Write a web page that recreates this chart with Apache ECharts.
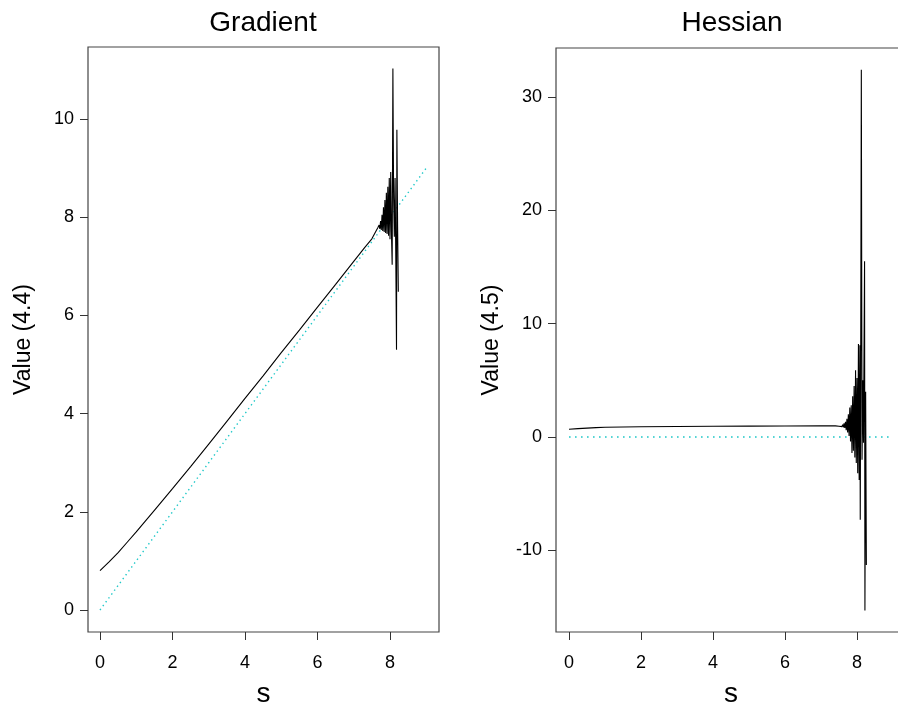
<!DOCTYPE html>
<html>
<head>
<meta charset="utf-8">
<title>Gradient and Hessian</title>
<script src="https://cdn.jsdelivr.net/npm/echarts@6/dist/echarts.min.js"></script>
<style>
  html, body { margin: 0; padding: 0; background: #fff; }
  #chart { width: 898px; height: 706px; }
</style>
</head>
<body>
<div id="chart"></div>
<script>
// gradient (4.4) against s
var gradS = [0, 0.25, 0.5, 0.75, 1, 1.25, 1.5, 2, 2.5, 3, 3.5, 4, 4.5, 5, 5.5, 6, 6.5, 7, 7.3, 7.5,
  7.60, 7.62, 7.64, 7.66, 7.68, 7.70, 7.72, 7.74, 7.76, 7.78, 7.80, 7.82, 7.84, 7.86, 7.88, 7.90,
  7.92, 7.94, 7.96, 7.98, 8.00, 8.02, 8.04, 8.06, 8.08, 8.10, 8.12, 8.14, 8.16, 8.18, 8.19, 8.21, 8.23];
var gradVals = [0.80, 0.98, 1.17, 1.38, 1.59, 1.81, 2.03, 2.47, 2.92, 3.38, 3.84, 4.31, 4.77, 5.24, 5.70, 6.17, 6.63, 7.10, 7.38, 7.56,
  7.70, 7.74, 7.72, 7.78, 7.74, 7.84, 7.76, 7.92, 7.74, 8.05, 7.72, 8.20, 7.70, 8.35, 7.68, 8.50,
  7.66, 8.62, 7.62, 8.80, 7.55, 8.92, 7.70, 7.03, 11.03, 8.40, 7.60, 8.80, 7.20, 5.30, 9.78, 7.80, 6.48];

// hessian (4.5) against s
var hessS = [0, 0.25, 0.5, 0.75, 1, 1.5, 2, 3, 4, 5, 6, 7, 7.4,
  7.45, 7.50, 7.55, 7.58, 7.60, 7.62, 7.64, 7.66, 7.68, 7.70, 7.72, 7.74, 7.76, 7.78, 7.80, 7.82,
  7.84, 7.86, 7.88, 7.90, 7.92, 7.94, 7.96, 7.98, 8.00, 8.02, 8.04, 8.06, 8.08, 8.09, 8.10, 8.12,
  8.14, 8.16, 8.18, 8.21, 8.22, 8.24, 8.26];
var hessVals = [0.68, 0.74, 0.79, 0.83, 0.86, 0.89, 0.91, 0.93, 0.95, 0.96, 0.97, 0.98, 0.98,
  1.00, 0.95, 1.05, 0.92, 1.10, 0.85, 1.20, 0.80, 1.35, 0.60, 1.60, 0.40, 2.00, 0.10, 2.60, -0.40,
  2.80, -1.40, 3.60, -1.20, 4.50, -1.80, 5.90, -2.30, 5.20, -3.20, 8.20, -3.80, 8.10, -7.30, 3.00, 32.40,
  -2.00, 5.00, -0.50, 15.50, -15.30, 4.00, -11.30];

// dotted reference lines
var refS = [0, 9];
var gradRef = [0, 9];
var hessRef = [0, 0];

var xTicks = [0, 2, 4, 6, 8];
var gradTicks = [0, 2, 4, 6, 8, 10];
var hessTicks = [-10, 0, 10, 20, 30];

function pairs(xs, ys) {
  return xs.map(function (x, i) { return [x, ys[i]]; });
}

var font = "Liberation Sans, Arial, Helvetica, sans-serif";

function xAxisOf(idx, min, max) {
  return {
    type: "value",
    gridIndex: idx,
    min: min,
    max: max,
    name: "s",
    nameLocation: "middle",
    nameGap: 48,
    nameTextStyle: { fontFamily: font, fontSize: 28, color: "#000" },
    axisLine: { show: false, onZero: false },
    splitLine: { show: false },
    axisTick: {
      show: true,
      length: 8,
      customValues: xTicks,
      lineStyle: { color: "#333", width: 1 }
    },
    axisLabel: {
      customValues: xTicks,
      margin: 22,
      fontFamily: font,
      fontSize: 18,
      color: "#000"
    }
  };
}

function yAxisOf(idx, min, max, ticks, name) {
  return {
    type: "value",
    gridIndex: idx,
    min: min,
    max: max,
    name: name,
    nameLocation: "middle",
    nameGap: 53,
    nameTextStyle: { fontFamily: font, fontSize: 23, color: "#000" },
    axisLine: { show: false, onZero: false },
    splitLine: { show: false },
    axisTick: {
      show: true,
      length: 8,
      customValues: ticks,
      lineStyle: { color: "#333", width: 1 }
    },
    axisLabel: {
      customValues: ticks,
      margin: 14,
      fontFamily: font,
      fontSize: 18,
      color: "#000"
    }
  };
}

var chart = echarts.init(document.getElementById("chart"));
chart.setOption({
  animation: false,
  backgroundColor: "#fff",
  title: [
    {
      text: "Gradient",
      left: 258, top: 4, textAlign: "center",
      textStyle: { fontFamily: font, fontSize: 28, fontWeight: "normal", color: "#000" }
    },
    {
      text: "Hessian",
      left: 727, top: 4, textAlign: "center",
      textStyle: { fontFamily: font, fontSize: 28, fontWeight: "normal", color: "#000" }
    }
  ],
  grid: [
    { left: 88, top: 47, width: 351, height: 585, outerBoundsMode: "none", containLabel: false, show: true, borderColor: "#444", borderWidth: 1.2, backgroundColor: "transparent" },
    { left: 556, top: 48, width: 350, height: 584, outerBoundsMode: "none", containLabel: false, show: true, borderColor: "#444", borderWidth: 1.2, backgroundColor: "transparent" }
  ],
  xAxis: [
    xAxisOf(0, -0.331, 9.352),
    xAxisOf(1, -0.361, 9.361)
  ],
  yAxis: [
    yAxisOf(0, -0.448, 11.466, gradTicks, "Value (4.4)"),
    yAxisOf(1, -17.2, 34.32, hessTicks, "Value (4.5)")
  ],
  series: [
    {
      type: "line", xAxisIndex: 0, yAxisIndex: 0,
      data: pairs(refS, gradRef),
      showSymbol: false,
      lineStyle: { color: "#1fc8c8", width: 1.4, type: [1.4, 3.4] }
    },
    {
      type: "line", xAxisIndex: 0, yAxisIndex: 0,
      data: pairs(gradS, gradVals),
      showSymbol: false,
      lineStyle: { color: "#000", width: 1.1 }
    },
    {
      type: "line", xAxisIndex: 1, yAxisIndex: 1,
      data: pairs(refS, hessRef),
      showSymbol: false,
      lineStyle: { color: "#1fc8c8", width: 1.6, type: [1.6, 4.4] }
    },
    {
      type: "line", xAxisIndex: 1, yAxisIndex: 1,
      data: pairs(hessS, hessVals),
      showSymbol: false,
      lineStyle: { color: "#000", width: 1.1 }
    }
  ]
});
</script>
</body>
</html>
